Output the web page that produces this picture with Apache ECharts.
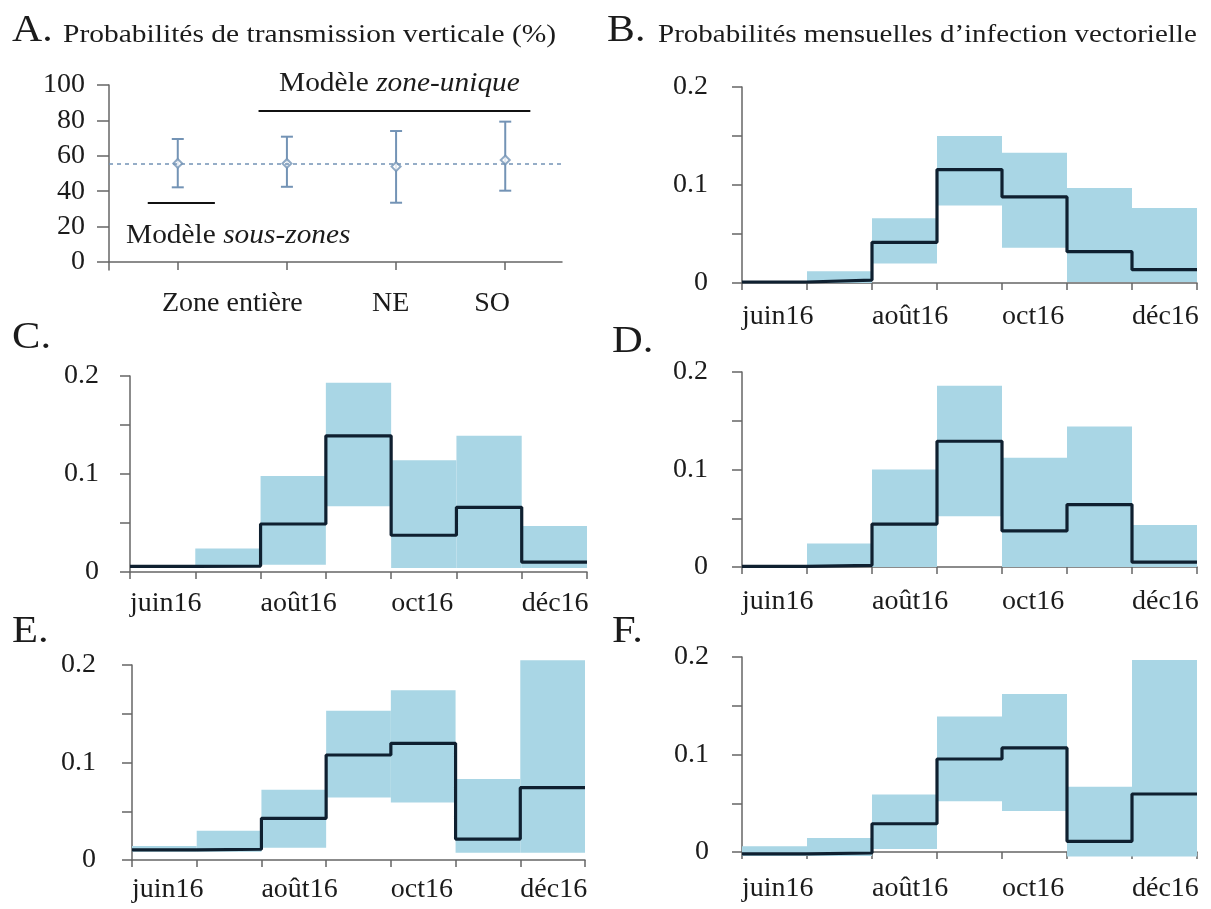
<!DOCTYPE html>
<html>
<head>
<meta charset="utf-8">
<script src="https://cdn.jsdelivr.net/npm/echarts@6/dist/echarts.min.js"></script>
<style>
  html, body { margin: 0; padding: 0; background: #fff; }
  #main { width: 1211px; height: 909px; }
</style>
</head>
<body>
<div id="main"></div>
<script>
// panneau A : transmission verticale (%)
const zoneLabels = ['Zone entière', 'NE', 'SO'];
const vtX = [1, 2, 3, 4];
const vtMean = [55.7, 55.7, 53.9, 57.6];
const vtLow = [42.2, 42.5, 33.5, 40.3];
const vtHigh = [69.5, 70.8, 74.0, 79.3];
const vtRef = 55.7;

// panneaux B-F : probabilités mensuelles (juin -> déc 2016)
const monthLabels = ['juin16', 'août16', 'oct16', 'déc16'];

const medB = [0.001, 0.003, 0.0415, 0.1157, 0.0878, 0.032, 0.0136];
const lowB = [0, 0, 0.020, 0.079, 0.036, 0.001, 0.001];
const highB = [0.002, 0.012, 0.066, 0.150, 0.133, 0.097, 0.0765];

const medC = [0.0058, 0.006, 0.049, 0.139, 0.0375, 0.066, 0.010];
const lowC = [0.004, 0.005, 0.0075, 0.067, 0.004, 0.004, 0.004];
const highC = [0.007, 0.024, 0.098, 0.193, 0.114, 0.139, 0.047];

const medD = [0.0007, 0.0017, 0.044, 0.129, 0.037, 0.064, 0.005];
const lowD = [0, 0, 0, 0.052, 0, 0, 0];
const highD = [0.002, 0.024, 0.100, 0.186, 0.112, 0.144, 0.043];

const medE = [0.0103, 0.011, 0.0427, 0.1077, 0.1197, 0.0215, 0.0742];
const lowE = [0.0085, 0.0085, 0.0126, 0.064, 0.059, 0.0075, 0.0075];
const highE = [0.0144, 0.030, 0.072, 0.153, 0.174, 0.083, 0.205];

const medF = [-0.002, -0.001, 0.029, 0.0954, 0.1067, 0.011, 0.0595];
const lowF = [-0.004, -0.004, 0.003, 0.052, 0.042, -0.0045, -0.0045];
const highF = [0.006, 0.0144, 0.059, 0.139, 0.162, 0.067, 0.197];

const SERIF = '"Liberation Serif", "Times New Roman", serif';
const AXIS_COLOR = '#666';
const TEXT_COLOR = '#1b1b1b';
const RIBBON = '#a9d6e5';
const LINE = '#0f2030';
const ERR = '#7393b5';

// position des panneaux B-F (grilles en pixels)
const panels = [
  { med: medB, low: lowB, high: highB, grid: { left: 742, top: 87, width: 455, height: 196 }, yOff: 14, xOff: 12 },
  { med: medC, low: lowC, high: highC, grid: { left: 130, top: 376, width: 457, height: 196 }, yOff: 11, xOff: 10 },
  { med: medD, low: lowD, high: highD, grid: { left: 742, top: 372, width: 455, height: 195 }, yOff: 14, xOff: 13 },
  { med: medE, low: lowE, high: highE, grid: { left: 132, top: 665, width: 453, height: 195 }, yOff: 16, xOff: 8 },
  { med: medF, low: lowF, high: highF, grid: { left: 742, top: 657, width: 455, height: 195 }, yOff: 13, xOff: 15 }
];

const axisLine = { show: true, lineStyle: { color: AXIS_COLOR, width: 1.5 } };
const labelFont = { fontFamily: SERIF, fontSize: 28, color: TEXT_COLOR };

const grids = [{ left: 109, top: 85, width: 453, height: 185, outerBoundsMode: 'none' }];
const xAxes = [{
  gridIndex: 0, type: 'value', min: 0.37, max: 4.52,
  axisLine: axisLine,
  axisTick: { show: true, length: 8, customValues: vtX, lineStyle: { color: AXIS_COLOR, width: 1.5 } },
  axisLabel: Object.assign({
    customValues: [1.5, 2.95, 3.88], margin: 20,
    formatter: v => v < 2 ? zoneLabels[0] : (v < 3.5 ? zoneLabels[1] : zoneLabels[2])
  }, labelFont),
  splitLine: { show: false }
}];
const yAxes = [{
  gridIndex: 0, type: 'value', min: -4.5, max: 100,
  axisLine: axisLine,
  axisTick: { show: true, length: 12, customValues: [0, 20, 40, 60, 80, 100], lineStyle: { color: AXIS_COLOR, width: 1.5 } },
  axisLabel: Object.assign({ customValues: [0, 20, 40, 60, 80, 100], margin: 24 }, labelFont),
  splitLine: { show: false }
}];

const series = [
  {
    type: 'custom', xAxisIndex: 0, yAxisIndex: 0,
    data: vtX.map((x, i) => [x, vtLow[i], vtHigh[i]]),
    renderItem: function (params, api) {
      const top = api.coord([api.value(0), api.value(2)]);
      const bot = api.coord([api.value(0), api.value(1)]);
      const st = { stroke: ERR, lineWidth: 2 };
      return {
        type: 'group',
        children: [
          { type: 'line', shape: { x1: top[0], y1: top[1], x2: bot[0], y2: bot[1] }, style: st },
          { type: 'line', shape: { x1: top[0] - 6, y1: top[1], x2: top[0] + 6, y2: top[1] }, style: st },
          { type: 'line', shape: { x1: bot[0] - 6, y1: bot[1], x2: bot[0] + 6, y2: bot[1] }, style: st }
        ]
      };
    }
  },
  {
    type: 'scatter', xAxisIndex: 0, yAxisIndex: 0,
    symbol: 'emptyDiamond', symbolSize: 9,
    itemStyle: { color: ERR, borderWidth: 1.5 },
    data: vtX.map((x, i) => [x, vtMean[i]]),
    markLine: {
      silent: true, symbol: 'none', label: { show: false },
      data: [
        { yAxis: vtRef, lineStyle: { color: ERR, width: 1.5, type: [4, 4] } },
        [{ coord: [1.74, 85.3], lineStyle: { color: '#111', width: 2, type: 'solid' } }, { coord: [4.23, 85.3] }],
        [{ coord: [0.725, 33.3], lineStyle: { color: '#111', width: 2, type: 'solid' } }, { coord: [1.34, 33.3] }]
      ]
    }
  }
];

panels.forEach((p, k) => {
  const gi = k + 1;
  grids.push(Object.assign({ outerBoundsMode: 'none' }, p.grid));
  xAxes.push({
    gridIndex: gi, type: 'value', min: 0, max: 7, interval: 1, offset: p.xOff,
    axisLine: axisLine,
    axisTick: { show: true, length: 7, lineStyle: { color: AXIS_COLOR, width: 1.5 } },
    axisLabel: Object.assign({
      align: 'left', margin: 8,
      formatter: v => (v % 2 === 0 && v < 7) ? monthLabels[v / 2] : ''
    }, labelFont),
    splitLine: { show: false }
  });
  yAxes.push({
    gridIndex: gi, type: 'value', min: 0, max: 0.2, interval: 0.05, offset: p.yOff,
    axisLine: axisLine,
    axisTick: { show: true, length: 10, lineStyle: { color: AXIS_COLOR, width: 1.5 } },
    axisLabel: Object.assign({
      margin: 20,
      formatter: v => { const r = Math.round(v * 100); return r % 10 === 0 ? String(r / 100) : ''; }
    }, labelFont),
    splitLine: { show: false }
  });
  // intervalle de crédibilité mensuel
  series.push({
    type: 'custom', xAxisIndex: gi, yAxisIndex: gi,
    data: p.med.map((_, i) => [i, p.low[i], p.high[i]]),
    renderItem: function (params, api) {
      const a = api.coord([api.value(0), api.value(2)]);
      const b = api.coord([api.value(0) + 1, api.value(1)]);
      return {
        type: 'rect',
        shape: { x: a[0], y: a[1], width: b[0] - a[0], height: b[1] - a[1] },
        style: { fill: RIBBON }
      };
    }
  });
  // médiane en escalier
  const pts = p.med.map((v, i) => [i, v]);
  pts.push([7, p.med[6]]);
  series.push({
    type: 'line', xAxisIndex: gi, yAxisIndex: gi, step: 'end',
    symbol: 'none', clip: false, data: pts,
    lineStyle: { color: LINE, width: 3.2 }
  });
});

function txt(text, x, y, size, sx) {
  return {
    type: 'text', x: x, y: y, scaleX: sx || 1,
    style: { text: text, font: size + 'px ' + SERIF, fill: TEXT_COLOR, verticalAlign: 'middle' }
  };
}

function note(text, x, y) {
  return {
    type: 'text', x: x, y: y, scaleX: 1.05,
    style: {
      text: text, font: '28px ' + SERIF, fill: TEXT_COLOR, verticalAlign: 'middle',
      rich: { i: { fontStyle: 'italic', fontSize: 28, fontFamily: SERIF, fill: TEXT_COLOR } }
    }
  };
}

const graphics = [
  txt('A.', 12, 31, 38, 1.1),
  txt('Probabilités de transmission verticale (%)', 63, 35, 25, 1.18),
  txt('B.', 607, 31, 38, 1.1),
  txt('Probabilités mensuelles d\u2019infection vectorielle', 658, 35, 25, 1.16),
  txt('C.', 12, 338, 38, 1.12),
  txt('D.', 612, 342, 38, 1.12),
  txt('E.', 12, 632, 38, 1.12),
  txt('F.', 612, 632, 38, 1.12),
  note('Modèle {i|zone-unique}', 279, 84),
  note('Modèle {i|sous-zones}', 126, 236)
];

const chart = echarts.init(document.getElementById('main'), null, { renderer: 'canvas' });
chart.setOption({
  backgroundColor: '#fff',
  animation: false,
  grid: grids,
  xAxis: xAxes,
  yAxis: yAxes,
  series: series,
  graphic: graphics
});
</script>
</body>
</html>
